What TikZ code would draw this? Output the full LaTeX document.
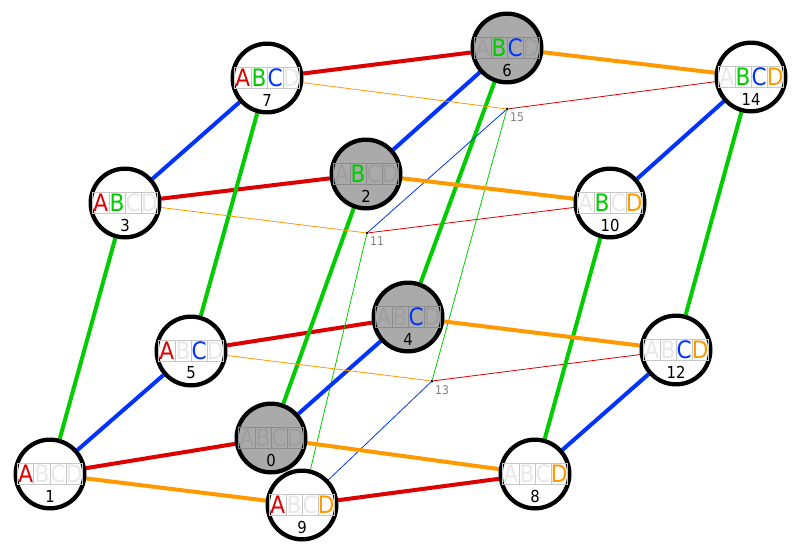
\documentclass[tikz,border=0pt]{standalone}
\usepackage{fontspec}
\setmainfont{DejaVu Sans Condensed}
\usetikzlibrary{backgrounds}

\definecolor{cA}{RGB}{221,0,0}
\definecolor{cB}{RGB}{0,204,0}
\definecolor{cC}{RGB}{0,51,255}
\definecolor{cD}{RGB}{255,153,0}
\definecolor{greyfill}{RGB}{170,170,170}

\setlength{\fboxsep}{0pt}
\setlength{\fboxrule}{0.8pt}
\newcommand{\cell}[2]{\fbox{\makebox[15.3pt]{\rule[-1.3pt]{0pt}{20.5pt}\textcolor{#1}{#2}}}}
\newcommand{\abcd}[4]{\cell{#1}{A}\hspace{-\fboxrule}\cell{#2}{B}\hspace{-\fboxrule}\cell{#3}{C}\hspace{-\fboxrule}\cell{#4}{D}}

\tikzset{
  vtx/.style={circle, draw=black, line width=4.3pt, minimum size=67pt, inner sep=0pt,
    fill=white, text=black!22, execute at begin node={\colorlet{off}{black!9}},
    font=\fontsize{24}{24}\selectfont},
  vtxgrey/.style={vtx, fill=greyfill, text=black!45, execute at begin node={\colorlet{off}{black!38}}},
  num/.style={font=\fontsize{16.5}{16.5}\selectfont, inner sep=0pt},
  hub/.style={circle, fill=black, minimum size=3pt, inner sep=0pt},
  hublabel/.style={font=\fontsize{12}{12}\selectfont, text=black!50, inner sep=0pt},
  thickedge/.style={line width=4pt},
  thinedge/.style={line width=0.8pt},
}

\begin{document}
\begin{tikzpicture}[x=1pt,y=-1pt]
    \useasboundingbox (0,0) rectangle (800,557);

        % Vertices
        \node[vtxgrey] (v0) at (271,438) {\abcd{off}{off}{off}{off}};
        \node[vtx] (v1) at (50,474) {\abcd{cA}{off}{off}{off}};
        \node[vtxgrey] (v2) at (366,174) {\abcd{off}{cB}{off}{off}};
        \node[vtx] (v3) at (125,203) {\abcd{cA}{cB}{off}{off}};
        \node[vtxgrey] (v4) at (408,317) {\abcd{off}{off}{cC}{off}};
        \node[vtx] (v5) at (191,351) {\abcd{cA}{off}{cC}{off}};
        \node[vtxgrey] (v6) at (507,48) {\abcd{off}{cB}{cC}{off}};
        \node[vtx] (v7) at (267,78) {\abcd{cA}{cB}{cC}{off}};
        \node[vtx] (v8) at (535,474) {\abcd{off}{off}{off}{cD}};
        \node[vtx] (v9) at (302,505) {\abcd{cA}{off}{off}{cD}};
        \node[vtx] (v10) at (610,203) {\abcd{off}{cB}{off}{cD}};
        \node[vtx] (v12) at (676,350) {\abcd{off}{off}{cC}{cD}};
        \node[vtx] (v14) at (751,77) {\abcd{off}{cB}{cC}{cD}};

        % Numbers
        \foreach \n in {0,1,2,3,4,5,6,7,8,9,10,12,14}
            \node[num] (n\n) at ([yshift=-22pt]v\n.center) {\n};

        % Hidden vertices
        \node[hub] (v11) at (367,233) {};
        \node[hub] (v13) at (432,381) {};
        \node[hub] (v15) at (507,109) {};
        \node[hublabel, anchor=north west] (l11) at ([xshift=3pt,yshift=-4pt]v11.center) {11};
        \node[hublabel, anchor=north west] (l13) at ([xshift=3pt,yshift=-4pt]v13.center) {13};
        \node[hublabel, anchor=north west] (l15) at ([xshift=3pt,yshift=-4pt]v15.center) {15};

        \begin{pgfonlayer}{background}
        % A edges
        \draw[thickedge, cA] (v0) -- (v1) (v2) -- (v3) (v4) -- (v5) (v6) -- (v7) (v8) -- (v9);
        \draw[thinedge, cA] (v10) -- (v11) (v12) -- (v13) (v14) -- (v15);
        % B edges
        \draw[thickedge, cB] (v0) -- (v2) (v1) -- (v3) (v4) -- (v6) (v5) -- (v7) (v8) -- (v10) (v12) -- (v14);
        \draw[thinedge, cB] (v9) -- (v11) (v13) -- (v15);
        % C edges
        \draw[thickedge, cC] (v0) -- (v4) (v1) -- (v5) (v2) -- (v6) (v3) -- (v7) (v8) -- (v12) (v10) -- (v14);
        \draw[thinedge, cC] (v9) -- (v13) (v11) -- (v15);
        % D edges
        \draw[thickedge, cD] (v0) -- (v8) (v1) -- (v9) (v2) -- (v10) (v4) -- (v12) (v6) -- (v14);
        \draw[thinedge, cD] (v3) -- (v11) (v5) -- (v13) (v7) -- (v15);
        \end{pgfonlayer}

    \end{tikzpicture}
\end{document}
